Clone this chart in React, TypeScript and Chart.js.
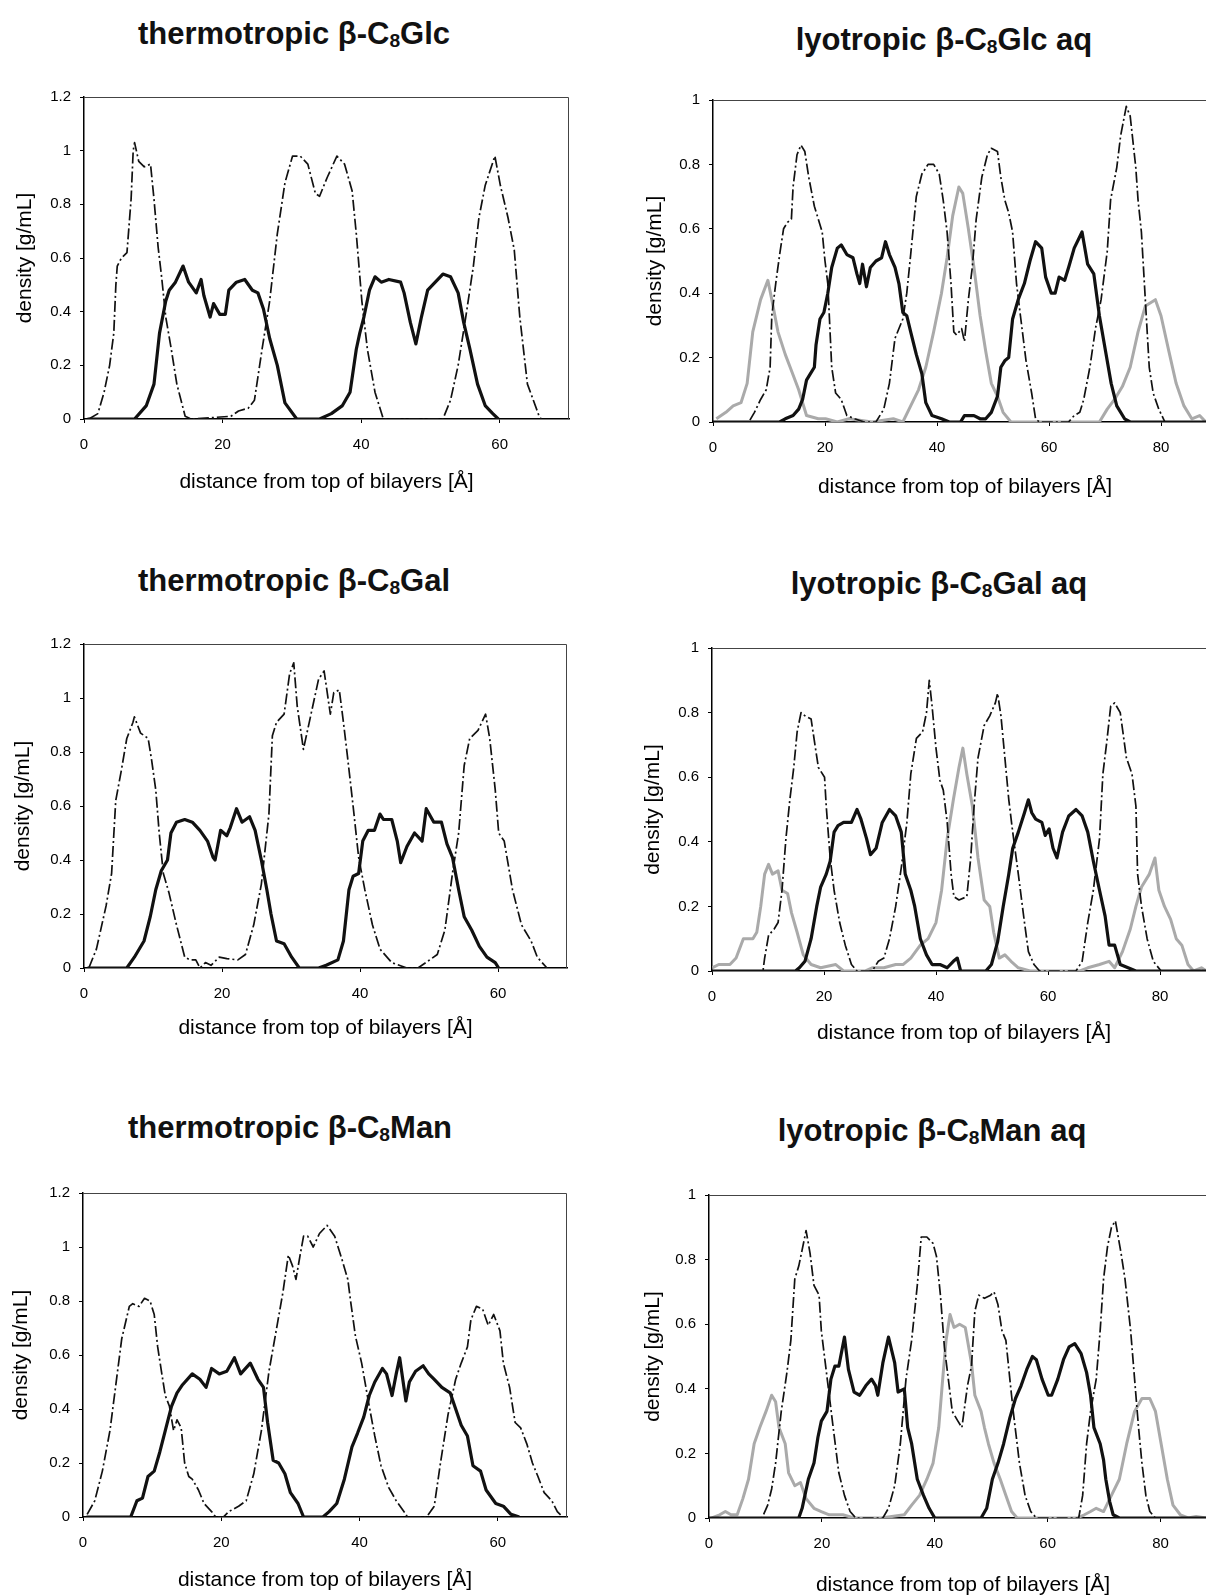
import React, { useEffect, useRef } from 'react';
import { Chart, registerables } from 'chart.js';

Chart.register(...registerables);

type Pt = [number, number];

// ---- thermotropic β-C8Glc ----
const tGlcHead: Pt[] = [[0.7,0],[2,0.02],[2.9,0.1],[3.7,0.2],[4.3,0.32],[4.6,0.5],[4.8,0.57],[5.4,0.6],[6.2,0.62],[6.8,0.82],[7.1,1.0],[7.3,1.03],[7.9,0.96],[8.7,0.94],[9.6,0.95],[10.1,0.82],[10.7,0.64],[11.2,0.53],[11.8,0.38],[12.6,0.26],[13.4,0.13],[14.6,0.01],[15.5,0],[21.2,0.01],[22.3,0.03],[23.7,0.04],[24.6,0.07],[25.7,0.26],[26.8,0.44],[27.9,0.69],[29,0.88],[30.1,0.98],[31.2,0.98],[32.3,0.95],[33.4,0.84],[34,0.83],[35.1,0.9],[36.5,0.98],[37.6,0.95],[38.7,0.85],[39.3,0.69],[40.1,0.44],[40.9,0.26],[42,0.1],[43.2,0],[51.8,0],[52.9,0.07],[54,0.2],[55.1,0.38],[56.2,0.57],[57,0.75],[57.9,0.87],[59.3,0.98],[60.1,0.87],[61.2,0.75],[62.1,0.63],[62.9,0.38],[64,0.13],[65.7,0.01],[66,0]];
const tGlcChain: Pt[] = [[0.5,0],[7.3,0],[9,0.05],[10.1,0.13],[10.9,0.32],[11.8,0.44],[12.3,0.48],[13.2,0.51],[14.3,0.57],[15.1,0.51],[16.2,0.47],[16.9,0.52],[17.3,0.46],[18.2,0.38],[18.7,0.43],[19.6,0.39],[20.4,0.39],[20.9,0.48],[22,0.51],[23.2,0.52],[24.3,0.48],[25.1,0.47],[25.9,0.41],[26.8,0.3],[27.9,0.2],[29,0.06],[30.7,0],[34,0],[35.7,0.02],[37.3,0.05],[38.4,0.1],[39.3,0.26],[39.8,0.32],[40.4,0.38],[41.2,0.48],[42,0.53],[42.9,0.51],[44,0.52],[45.7,0.51],[46.2,0.47],[47.1,0.36],[47.9,0.28],[48.7,0.38],[49.6,0.48],[50.7,0.51],[51.8,0.54],[52.9,0.53],[54,0.47],[54.8,0.36],[55.7,0.26],[56.8,0.13],[57.9,0.05],[59,0.02],[59.8,0]];

// ---- thermotropic β-C8Gal ----
const tGalHead: Pt[] = [[0.7,0],[1.8,0.07],[3.2,0.23],[4,0.35],[4.6,0.62],[5.4,0.73],[6.2,0.85],[7.1,0.91],[7.3,0.93],[8.2,0.87],[9.3,0.85],[9.8,0.77],[10.4,0.66],[10.9,0.5],[11.5,0.35],[12.3,0.28],[13.4,0.16],[14.6,0.04],[15.4,0.03],[16.2,0.03],[16.8,0],[17.6,0.02],[18.4,0.01],[19.6,0.04],[20.7,0.035],[22.3,0.03],[23.4,0.05],[24.6,0.16],[25.7,0.31],[26.8,0.57],[27.3,0.86],[27.9,0.91],[29,0.94],[29.8,1.09],[30.4,1.13],[30.9,0.97],[31.8,0.81],[32.9,0.94],[34,1.07],[34.8,1.1],[35.7,0.94],[36.2,1.02],[37,1.03],[37.6,0.91],[38.2,0.78],[39,0.6],[39.8,0.41],[40.7,0.29],[41.8,0.16],[42.9,0.07],[44.6,0.02],[46.8,0],[48.4,0],[50.1,0.03],[51.2,0.05],[52.3,0.14],[53.4,0.35],[54.3,0.5],[55.1,0.75],[55.9,0.85],[57.1,0.88],[58.2,0.94],[58.8,0.85],[59.6,0.66],[60.1,0.5],[60.9,0.47],[62.1,0.29],[63.4,0.16],[64.8,0.1],[65.7,0.04],[67.1,0]];
const tGalChain: Pt[] = [[0.5,0],[6.2,0],[7.3,0.04],[8.7,0.1],[9.6,0.19],[10.4,0.29],[11.2,0.36],[12.1,0.4],[12.6,0.5],[13.4,0.54],[14.6,0.55],[15.7,0.54],[16.8,0.51],[17.9,0.47],[18.7,0.41],[19,0.4],[19.8,0.51],[20.7,0.49],[21.2,0.52],[22.1,0.59],[22.9,0.54],[24,0.56],[24.8,0.51],[25.7,0.4],[26.5,0.29],[27.1,0.2],[27.9,0.1],[29,0.09],[30.1,0.04],[31.2,0],[34,0],[35.1,0.01],[36.8,0.03],[37.6,0.1],[38.4,0.29],[39,0.34],[39.8,0.35],[40.4,0.47],[41.2,0.51],[42.1,0.51],[42.9,0.57],[43.4,0.55],[44.6,0.55],[45.4,0.47],[45.9,0.39],[46.8,0.45],[47.9,0.5],[49,0.47],[49.6,0.59],[50.7,0.54],[51.8,0.54],[52.6,0.46],[53.4,0.41],[54.3,0.29],[55.1,0.19],[56.2,0.14],[57.3,0.08],[58.4,0.04],[59.6,0.02],[60.1,0]];

// ---- thermotropic β-C8Man ----
const tManHead: Pt[] = [[0.6,0.01],[1.7,0.06],[2.8,0.17],[3.9,0.32],[4.7,0.48],[5.6,0.66],[6.7,0.78],[7.2,0.79],[8.1,0.78],[8.9,0.81],[9.7,0.8],[10.3,0.75],[10.8,0.63],[11.4,0.53],[11.9,0.45],[12.5,0.41],[13.1,0.32],[13.6,0.36],[14.2,0.33],[14.7,0.2],[15.3,0.15],[15.8,0.14],[16.7,0.1],[17.5,0.05],[18.6,0.02],[19.2,0],[20.3,0],[21.1,0.02],[22.5,0.04],[23.6,0.06],[24.7,0.16],[25.8,0.32],[26.9,0.54],[27.8,0.67],[28.9,0.83],[29.7,0.97],[30.3,0.93],[30.8,0.88],[31.4,0.97],[31.9,1.04],[32.5,1.04],[33.3,1.0],[34.2,1.05],[35.3,1.08],[36.4,1.04],[37.5,0.95],[38.3,0.88],[38.7,0.8],[39.4,0.67],[40.3,0.57],[41.4,0.41],[42.2,0.3],[43.1,0.19],[44.2,0.11],[45.3,0.06],[46.7,0.01],[46.9,0],[49.7,0],[50.8,0.04],[51.7,0.2],[52.8,0.38],[53.9,0.51],[54.7,0.57],[55.6,0.63],[56.1,0.73],[56.9,0.78],[57.8,0.77],[58.6,0.71],[59.4,0.75],[60.3,0.69],[60.8,0.57],[61.7,0.48],[62.5,0.35],[63.3,0.33],[64.2,0.27],[65,0.2],[65.8,0.15],[66.7,0.09],[67.8,0.06],[68.6,0.02],[69.4,0]];
const tManChain: Pt[] = [[0.5,0],[6.9,0],[7.8,0.06],[8.6,0.07],[9.4,0.15],[10.3,0.17],[11.1,0.24],[11.9,0.32],[12.8,0.41],[13.6,0.46],[14.4,0.49],[15.8,0.53],[16.9,0.51],[17.8,0.48],[18.6,0.55],[19.7,0.53],[20.8,0.54],[21.9,0.59],[22.8,0.53],[24.2,0.57],[25.3,0.51],[26.1,0.48],[26.7,0.35],[27.5,0.21],[28.3,0.2],[29.2,0.16],[30,0.09],[31.1,0.05],[31.9,0],[34.7,0],[35.6,0.02],[36.7,0.05],[37.8,0.14],[38.9,0.26],[39.7,0.31],[40.6,0.37],[41.4,0.45],[42.2,0.5],[43.3,0.55],[43.9,0.53],[44.7,0.45],[45.3,0.53],[45.8,0.59],[46.7,0.43],[47.2,0.5],[48.1,0.54],[49.2,0.56],[50,0.53],[50.8,0.51],[51.9,0.48],[53.1,0.46],[53.9,0.4],[54.7,0.34],[55.6,0.3],[56.4,0.19],[57.5,0.17],[58.3,0.1],[59.7,0.05],[60.8,0.04],[61.9,0.01],[63.1,0]];

// ---- lyotropic β-C8Glc aq ----
const lGlcHead: Pt[] = [[0,0],[6.4,0],[7.4,0.03],[8.5,0.07],[9.5,0.1],[10.2,0.17],[10.5,0.33],[11.2,0.43],[11.9,0.52],[12.6,0.6],[13.3,0.62],[14,0.63],[14.3,0.73],[15,0.83],[15.7,0.86],[16.4,0.84],[17.1,0.76],[18.1,0.67],[18.8,0.63],[19.5,0.59],[20,0.5],[20.5,0.43],[21.2,0.17],[21.9,0.09],[22.9,0.07],[23.9,0.02],[25.3,0.01],[27,0],[29.1,0],[30.5,0.04],[31.5,0.12],[32.5,0.26],[33.9,0.32],[34.6,0.4],[35.3,0.52],[36.3,0.7],[37.3,0.77],[38.4,0.8],[39.4,0.8],[40.4,0.77],[41.1,0.69],[41.8,0.59],[42.5,0.43],[43,0.28],[43.5,0.27],[44.4,0.29],[44.9,0.25],[45.6,0.38],[46.3,0.48],[47,0.63],[48,0.76],[49,0.83],[49.7,0.85],[50.8,0.84],[51.4,0.76],[52.1,0.69],[52.8,0.65],[53.5,0.59],[54.2,0.43],[54.9,0.33],[55.9,0.19],[56.9,0.09],[57.6,0.01],[58.3,0],[63.5,0],[64.5,0.02],[65.5,0.03],[66.2,0.07],[67.3,0.17],[68.3,0.29],[69.3,0.38],[70.4,0.53],[71,0.69],[72.1,0.79],[72.8,0.89],[73.8,0.98],[74.5,0.95],[75.5,0.79],[75.9,0.69],[76.5,0.59],[77.2,0.38],[77.9,0.17],[78.6,0.09],[79.6,0.04],[80.7,0],[90,0]];
const lGlcChain: Pt[] = [[0,0],[11.9,0],[12.9,0.01],[14.3,0.02],[15.3,0.04],[16,0.07],[16.7,0.13],[17.4,0.15],[18.1,0.17],[18.4,0.24],[19.1,0.32],[19.8,0.34],[20.5,0.4],[21.2,0.48],[22.2,0.54],[22.9,0.55],[23.9,0.52],[25,0.51],[25.7,0.46],[26.2,0.43],[26.7,0.49],[27.4,0.42],[28.1,0.48],[29.1,0.5],[30.1,0.51],[30.8,0.56],[31.5,0.52],[32.5,0.48],[33.2,0.43],[33.9,0.34],[34.6,0.33],[35.3,0.28],[36.3,0.21],[37.3,0.15],[38,0.06],[39.1,0.02],[40.8,0.01],[42.2,0],[44.2,0],[44.9,0.02],[46.6,0.02],[47.7,0.01],[48.7,0.01],[49.7,0.03],[50.8,0.08],[51.4,0.17],[52.1,0.19],[52.8,0.2],[53.5,0.32],[54.5,0.38],[55.6,0.43],[56.6,0.5],[57.6,0.56],[58.7,0.54],[59.4,0.45],[60.4,0.4],[61.1,0.4],[61.8,0.45],[62.8,0.44],[63.5,0.48],[64.5,0.54],[65.9,0.59],[66.9,0.49],[68,0.46],[69,0.33],[70.1,0.22],[71.1,0.12],[72.1,0.05],[73.5,0.01],[74.5,0],[90,0]];
const lGlcWater: Pt[] = [[0.6,0.01],[2.3,0.03],[3.6,0.05],[5,0.06],[6.1,0.12],[7.1,0.28],[8.5,0.38],[9.8,0.44],[10.5,0.38],[11.6,0.28],[12.9,0.21],[14,0.16],[15.3,0.1],[16.7,0.02],[18.8,0.01],[20.1,0.01],[22.2,0],[24.3,0.01],[28.4,0],[32.2,0.01],[33.9,0],[35.3,0.05],[36.7,0.1],[38,0.17],[39.4,0.28],[40.8,0.4],[41.8,0.51],[42.8,0.64],[43.9,0.73],[44.6,0.71],[45.6,0.6],[46.6,0.48],[47.7,0.33],[48.7,0.22],[49.7,0.12],[50.8,0.08],[51.8,0.03],[53.2,0],[69,0],[70.4,0.04],[71.7,0.07],[73.1,0.11],[74.5,0.17],[75.9,0.28],[77.2,0.36],[79,0.38],[80,0.33],[81.4,0.22],[82.7,0.12],[84.1,0.05],[85.5,0.01],[86.9,0.02],[88,0],[90,0]];

// ---- lyotropic β-C8Gal aq ----
const lGalHead: Pt[] = [[0,0],[9.1,0],[9.4,0.04],[10.1,0.11],[11.1,0.13],[11.8,0.15],[12.5,0.25],[13.2,0.41],[13.9,0.53],[14.6,0.63],[15.2,0.74],[15.9,0.8],[16.6,0.79],[17.7,0.78],[18.3,0.71],[19,0.63],[20.1,0.6],[20.4,0.51],[21.1,0.35],[21.8,0.25],[22.8,0.15],[23.8,0.08],[24.9,0.02],[25.9,0],[28.6,0],[29.7,0.03],[30.7,0.04],[31.7,0.1],[32.8,0.2],[33.8,0.32],[34.8,0.46],[35.5,0.61],[36.5,0.72],[37.6,0.74],[38.3,0.8],[38.8,0.9],[39.3,0.82],[40,0.69],[40.7,0.59],[41.3,0.56],[42,0.46],[42.7,0.3],[43.2,0.23],[44.1,0.22],[45.5,0.23],[46.2,0.35],[46.8,0.51],[47.5,0.66],[48.6,0.76],[49.6,0.79],[50.6,0.83],[51,0.86],[51.6,0.79],[52.3,0.66],[53,0.53],[53.7,0.43],[54.7,0.3],[55.8,0.15],[56.5,0.06],[57.5,0.02],[58.5,0],[65,0],[66.1,0.03],[67.1,0.15],[68.1,0.25],[69.2,0.41],[69.8,0.61],[70.5,0.71],[71.2,0.82],[71.9,0.83],[72.9,0.8],[74,0.66],[75,0.61],[75.7,0.51],[76,0.3],[76.7,0.2],[77.7,0.1],[78.8,0.03],[80.2,0],[90,0]];
const lGalChain: Pt[] = [[0,0],[14.9,0],[15.6,0.01],[16.6,0.03],[17.7,0.1],[18.7,0.2],[19.4,0.26],[20.4,0.3],[21.1,0.34],[21.8,0.43],[22.5,0.45],[23.5,0.46],[24.9,0.46],[25.9,0.5],[26.6,0.47],[27.6,0.41],[28.3,0.36],[29.3,0.38],[30.4,0.46],[31.7,0.5],[32.8,0.48],[33.8,0.43],[34.5,0.3],[35.5,0.25],[36.2,0.2],[37.2,0.1],[38.3,0.05],[39.3,0.02],[40.7,0.02],[42,0.01],[43.1,0.03],[43.8,0.04],[44.4,0],[48.9,0],[49.9,0.02],[51,0.09],[52,0.2],[53,0.3],[53.7,0.38],[54.7,0.43],[55.8,0.49],[56.5,0.53],[57.1,0.49],[57.8,0.47],[58.9,0.46],[59.5,0.42],[60.2,0.44],[60.9,0.38],[61.6,0.35],[62.6,0.43],[63.7,0.48],[65,0.5],[66.1,0.48],[67.1,0.43],[68.1,0.34],[69.2,0.25],[70.2,0.17],[70.9,0.08],[71.9,0.08],[72.9,0.02],[74.3,0.01],[75.7,0],[90,0]];
const lGalWater: Pt[] = [[0.1,0.01],[1.2,0.02],[3.2,0.02],[4.3,0.04],[5.6,0.1],[6.3,0.1],[7.3,0.1],[8,0.12],[8.7,0.2],[9.4,0.3],[10.1,0.33],[10.8,0.3],[11.8,0.31],[12.5,0.25],[13.5,0.24],[14.2,0.18],[15.2,0.12],[16.3,0.05],[17.7,0.02],[19.4,0.01],[22.1,0.02],[23.5,0],[27.3,0],[28.6,0.01],[30.7,0.01],[32.8,0.02],[34.1,0.02],[35.5,0.04],[37.2,0.08],[38.6,0.1],[40,0.15],[41,0.25],[42,0.41],[43.1,0.53],[44.1,0.63],[44.8,0.69],[45.5,0.61],[46.5,0.51],[47.5,0.35],[48.6,0.22],[49.6,0.2],[50.3,0.12],[51.3,0.04],[52.3,0.05],[53.4,0.03],[54.7,0.01],[56.8,0],[65.7,0],[67.1,0.01],[69.2,0.02],[70.9,0.03],[71.9,0.01],[73.3,0.06],[74.7,0.13],[75.7,0.2],[76.7,0.26],[78.1,0.3],[79.1,0.35],[79.8,0.25],[80.8,0.2],[81.9,0.16],[82.9,0.1],[83.9,0.08],[85,0.02],[86,0],[87.4,0.01],[88.3,0],[90,0]];

// ---- lyotropic β-C8Man aq ----
const lManHead: Pt[] = [[0,0],[9.4,0],[10.4,0.04],[11.1,0.09],[11.8,0.17],[12.8,0.33],[13.8,0.45],[14.5,0.55],[15.2,0.74],[15.9,0.78],[16.5,0.83],[17.2,0.89],[17.9,0.82],[18.6,0.72],[19.5,0.69],[19.9,0.58],[20.6,0.48],[21.3,0.38],[22,0.28],[23,0.14],[24,0.07],[25,0.02],[26,0],[30.8,0],[31.8,0.03],[32.9,0.1],[33.9,0.23],[34.9,0.43],[35.9,0.55],[36.9,0.72],[37.6,0.87],[38.6,0.87],[39.7,0.85],[40.3,0.81],[41,0.69],[41.7,0.53],[42.4,0.43],[43.1,0.33],[44.1,0.3],[44.8,0.28],[45.8,0.41],[46.5,0.47],[47.1,0.64],[47.8,0.69],[48.8,0.68],[49.9,0.69],[50.5,0.7],[51.2,0.66],[51.9,0.58],[52.6,0.55],[53.3,0.43],[53.9,0.33],[55,0.17],[56,0.07],[57,0.02],[58,0],[65.5,0],[66.2,0.07],[66.9,0.23],[67.6,0.33],[68.6,0.43],[69.3,0.58],[69.9,0.74],[70.6,0.84],[71.3,0.9],[72,0.92],[73,0.82],[73.7,0.74],[74.7,0.58],[75.4,0.43],[76.1,0.28],[76.7,0.17],[77.4,0.07],[78.1,0.02],[79.1,0],[90,0]];
const lManChain: Pt[] = [[0,0],[15.9,0],[16.5,0.03],[17.6,0.12],[18.6,0.17],[19.3,0.25],[19.9,0.3],[20.9,0.33],[21.6,0.43],[22.3,0.47],[23,0.47],[24,0.56],[24.7,0.46],[25.7,0.39],[26.7,0.38],[27.8,0.41],[28.8,0.43],[29.5,0.41],[29.9,0.38],[30.8,0.48],[31.8,0.56],[32.9,0.48],[33.5,0.39],[34.6,0.4],[35.2,0.28],[35.9,0.23],[36.9,0.12],[38,0.07],[39,0.03],[40,0],[48.2,0],[49.2,0.03],[50.2,0.12],[51.2,0.17],[52.2,0.23],[53.3,0.31],[54.3,0.37],[55.3,0.41],[56.3,0.46],[57.3,0.5],[58,0.49],[59,0.43],[60.1,0.38],[60.7,0.38],[61.8,0.43],[62.8,0.49],[63.8,0.53],[64.8,0.54],[65.9,0.51],[66.9,0.45],[67.6,0.38],[68.2,0.28],[69.3,0.23],[69.9,0.18],[70.3,0.12],[71,0.05],[71.6,0.01],[72.7,0],[90,0]];
const lManWater: Pt[] = [[0.5,0],[1.9,0.01],[2.9,0.02],[3.9,0.01],[5,0.01],[6,0.06],[7,0.12],[8,0.23],[9,0.28],[10.1,0.33],[11.1,0.38],[11.8,0.36],[12.4,0.28],[13.5,0.23],[14.1,0.14],[15.2,0.1],[16.2,0.11],[17.2,0.06],[18.6,0.03],[19.9,0.02],[21.3,0.01],[23.7,0.01],[25.7,0],[30.5,0],[34.6,0.01],[35.9,0.04],[37.3,0.07],[38.6,0.12],[39.7,0.17],[40.7,0.28],[41.4,0.43],[42,0.55],[42.7,0.63],[43.4,0.59],[44.4,0.6],[45.4,0.59],[46.5,0.48],[47.1,0.38],[48.2,0.33],[48.8,0.28],[49.5,0.23],[50.5,0.17],[51.6,0.12],[52.6,0.07],[53.6,0.02],[54.6,0],[65.2,0],[66.5,0.01],[67.6,0.02],[68.6,0.03],[69.9,0.02],[71.3,0.07],[72.7,0.12],[74,0.23],[75.4,0.33],[76.7,0.37],[78.1,0.37],[79.1,0.33],[80.1,0.23],[81.2,0.12],[82.2,0.04],[83.5,0.01],[84.9,0],[86.3,0.005],[88,0],[90,0]];

const FONT = '"Liberation Sans", Arial, Helvetica, sans-serif';
const TICK_SIZE = 15;
const AXIS_TITLE_SIZE = 21;
const TITLE_SIZE = 31;

type Kind = 'chain' | 'head' | 'water';
interface PanelDef {
  pre: string; post: string;
  titleX: number; titleY: number;
  l: number; r: number; t: number; b: number;
  yTitleX: number; xTitleY: number;
  xMax: number; yMax: number;
  series: { data: Pt[]; kind: Kind }[];
}

const panels: PanelDef[] = [
  { pre: 'thermotropic β-C', post: 'Glc', titleX: 294, titleY: 33, l: 84, r: 569, t: 97, b: 419, yTitleX: 25, xTitleY: 482, xMax: 70, yMax: 1.2,
    series: [{ data: tGlcChain, kind: 'chain' }, { data: tGlcHead, kind: 'head' }] },
  { pre: 'thermotropic β-C', post: 'Gal', titleX: 294, titleY: 580, l: 84, r: 567, t: 644, b: 968, yTitleX: 23, xTitleY: 1028, xMax: 70, yMax: 1.2,
    series: [{ data: tGalChain, kind: 'chain' }, { data: tGalHead, kind: 'head' }] },
  { pre: 'thermotropic β-C', post: 'Man', titleX: 290, titleY: 1127, l: 83, r: 567, t: 1193, b: 1517, yTitleX: 21, xTitleY: 1580, xMax: 70, yMax: 1.2,
    series: [{ data: tManChain, kind: 'chain' }, { data: tManHead, kind: 'head' }] },
  { pre: 'lyotropic β-C', post: 'Glc aq', titleX: 944, titleY: 39, l: 713, r: 1217, t: 100, b: 422, yTitleX: 655, xTitleY: 487, xMax: 90, yMax: 1,
    series: [{ data: lGlcChain, kind: 'chain' }, { data: lGlcHead, kind: 'head' }, { data: lGlcWater, kind: 'water' }] },
  { pre: 'lyotropic β-C', post: 'Gal aq', titleX: 939, titleY: 583, l: 712, r: 1216, t: 648, b: 971, yTitleX: 653, xTitleY: 1033, xMax: 90, yMax: 1,
    series: [{ data: lGalChain, kind: 'chain' }, { data: lGalHead, kind: 'head' }, { data: lGalWater, kind: 'water' }] },
  { pre: 'lyotropic β-C', post: 'Man aq', titleX: 932, titleY: 1130, l: 709, r: 1217, t: 1195, b: 1518, yTitleX: 653, xTitleY: 1585, xMax: 90, yMax: 1,
    series: [{ data: lManChain, kind: 'chain' }, { data: lManHead, kind: 'head' }, { data: lManWater, kind: 'water' }] },
];

const styleFor = (k: Kind) => {
  if (k === 'chain') return { borderColor: '#111', borderWidth: 3.2, borderDash: [] as number[] };
  if (k === 'head') return { borderColor: '#111', borderWidth: 1.7, borderDash: [11, 3, 2, 3] };
  return { borderColor: '#aaaaaa', borderWidth: 3, borderDash: [] as number[] };
};

const framePlugin = {
  id: 'frame',
  beforeDatasetsDraw(chart: any) {
    const { ctx, chartArea } = chart;
    const { left, top, right, bottom } = chartArea;
    ctx.save();
    ctx.strokeStyle = '#444';
    ctx.lineWidth = 1;
    ctx.beginPath();
    ctx.moveTo(left, top + 0.5);
    ctx.lineTo(right - 0.5, top + 0.5);
    ctx.lineTo(right - 0.5, bottom);
    ctx.stroke();
    ctx.restore();
  },
};

function Panel({ p }: { p: PanelDef }) {
  const ref = useRef<HTMLCanvasElement>(null);
  const cx = p.yTitleX - 20;
  const cy = p.t - 40;
  const cw = p.r - cx + 20;
  const ch = p.xTitleY + 20 - cy;
  useEffect(() => {
    const tl = 4;
    const tickLH = TICK_SIZE * 1.2;
    const titleLH = AXIS_TITLE_SIZE * 1.2;
    const chart = new Chart(ref.current!, {
      type: 'line',
      data: {
        datasets: p.series.map((s) => ({
          data: s.data.map(([x, y]) => ({ x, y })),
          ...styleFor(s.kind),
          pointRadius: 0,
          tension: 0,
          fill: false,
          borderJoinStyle: 'round' as const,
        })),
      },
      options: {
        animation: false,
        responsive: false,
        parsing: false as any,
        layout: { padding: { top: p.t - cy, right: cx + cw - p.r, left: 0, bottom: 0 } },
        plugins: { legend: { display: false }, tooltip: { enabled: false } },
        scales: {
          x: {
            type: 'linear',
            min: 0,
            max: p.xMax,
            afterFit: (s: any) => { s.height = cy + ch - p.b; },
            grid: { display: true, drawOnChartArea: false, drawTicks: true, tickLength: tl, color: '#000' },
            border: { display: true, color: '#000', width: 1.5 },
            ticks: { stepSize: 20, includeBounds: false, padding: 26 - tl - tickLH / 2, color: '#000', font: { family: FONT, size: TICK_SIZE } },
            title: { display: true, text: 'distance from top of bilayers [Å]', color: '#000', font: { family: FONT, size: AXIS_TITLE_SIZE }, padding: { top: 0, bottom: 20 - titleLH / 2 } },
          },
          y: {
            type: 'linear',
            min: 0,
            max: p.yMax,
            afterFit: (s: any) => { s.width = p.l - cx; },
            grid: { display: true, drawOnChartArea: false, drawTicks: true, tickLength: tl, color: '#000' },
            border: { display: true, color: '#000', width: 1.5 },
            ticks: {
              stepSize: 0.2,
              padding: 9,
              color: '#000',
              font: { family: FONT, size: TICK_SIZE },
              callback: (v: any) => `${Math.round(Number(v) * 10) / 10}`,
            },
            title: { display: true, text: 'density [g/mL]', color: '#000', font: { family: FONT, size: AXIS_TITLE_SIZE }, padding: { top: 20 - titleLH / 2, bottom: 0 } },
          },
        },
      },
      plugins: [framePlugin],
    } as any);
    return () => chart.destroy();
  }, []);
  return (
    <>
      <canvas ref={ref} width={cw} height={ch} style={{ position: 'absolute', left: cx, top: cy }} />
      <div
        style={{
          position: 'absolute',
          left: p.titleX,
          top: p.titleY,
          transform: 'translate(-50%, -50%)',
          font: `bold ${TITLE_SIZE}px ${FONT}`,
          whiteSpace: 'nowrap',
          color: '#111',
          lineHeight: 1,
        }}
      >
        {p.pre}
        <span style={{ fontSize: '0.62em', position: 'relative', top: '0.14em' }}>8</span>
        {p.post}
      </div>
    </>
  );
}

export default function App() {
  return (
    <div style={{ position: 'absolute', left: 0, top: 0, width: 1206, height: 1595, overflow: 'hidden', background: '#fff' }}>
      {panels.map((p, i) => (
        <Panel key={i} p={p} />
      ))}
    </div>
  );
}
